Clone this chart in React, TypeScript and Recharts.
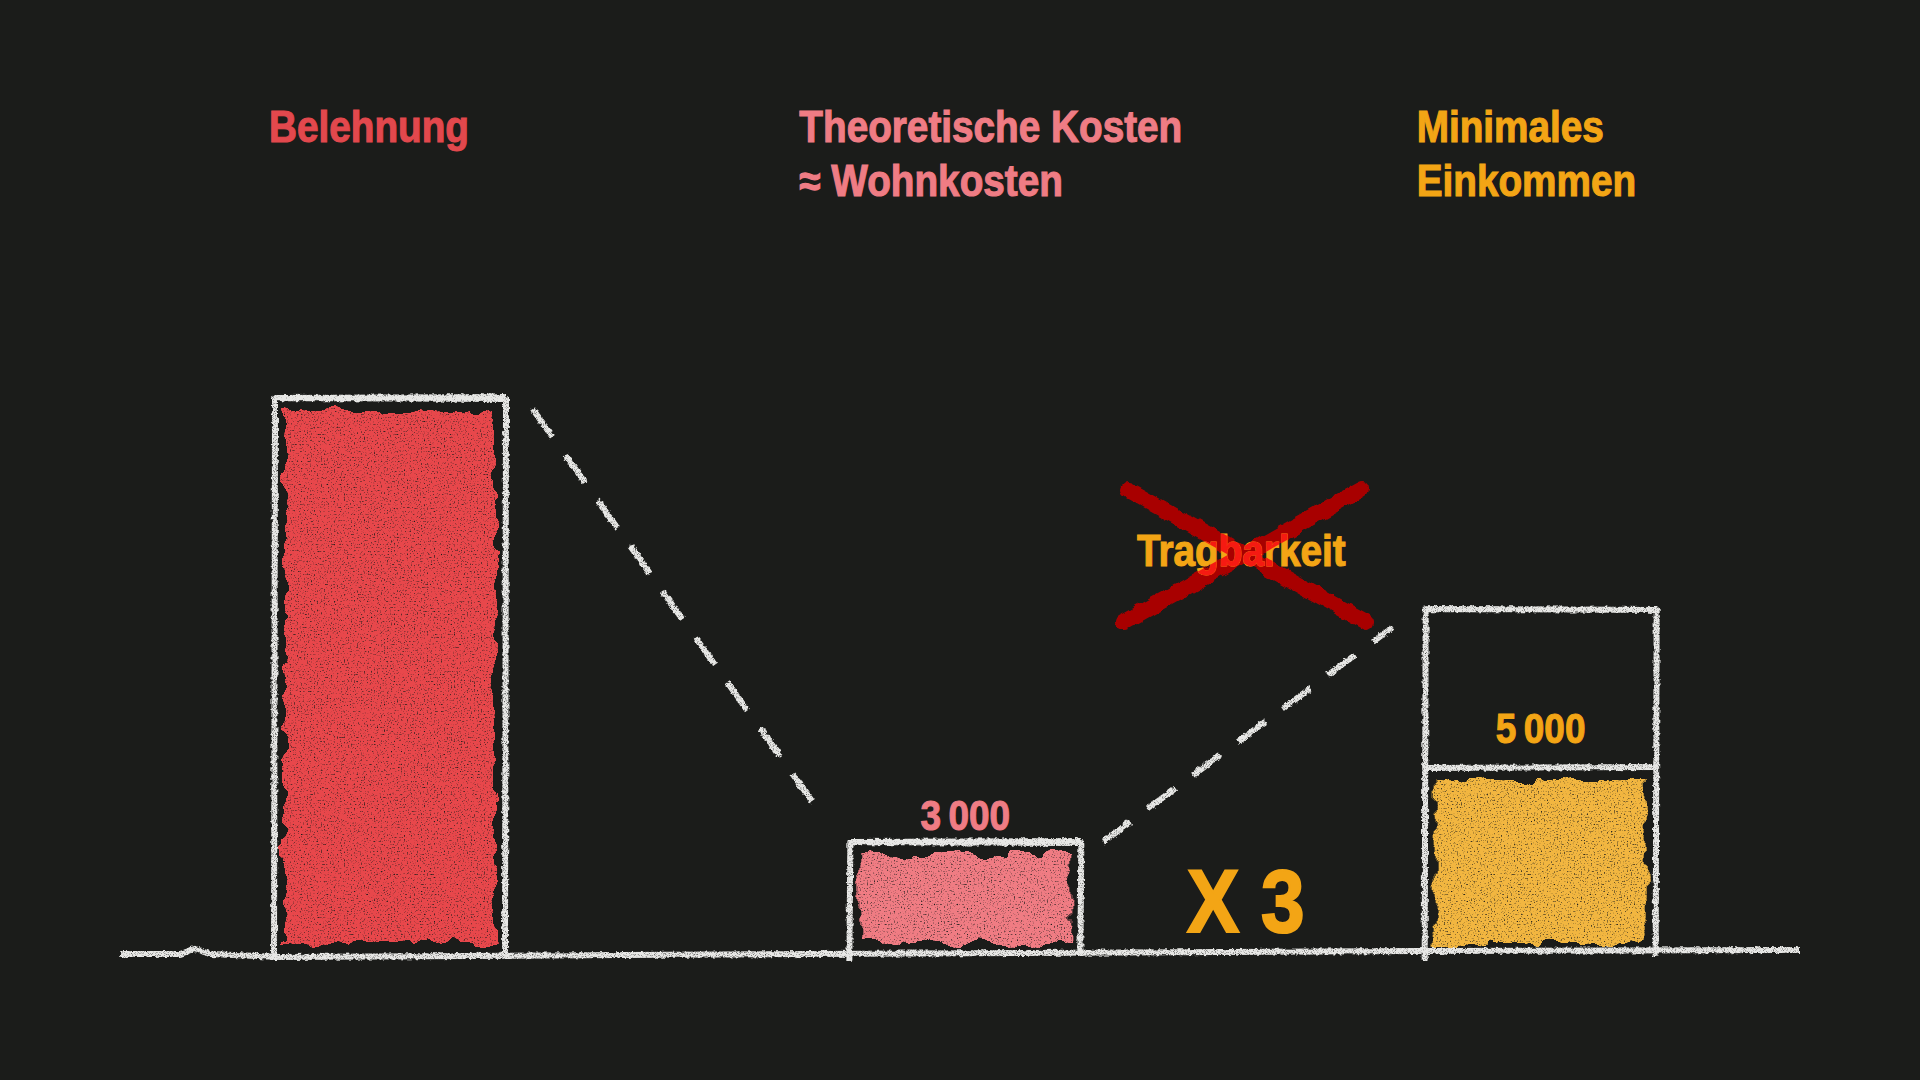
import { BarChart, Bar, XAxis, YAxis, ReferenceLine, LabelList } from 'recharts';

const CATEGORIES = ['Belehnung', 'Theoretische Kosten', 'Minimales Einkommen'];
const LABEL_LINES = [['Belehnung'], ['Theoretische Kosten', '≈ Wohnkosten'], ['Minimales', 'Einkommen']];
const VALUES = [15000, 3000, 5000];
const FRAMES = [15000, 3000, 9300];
const SHOW_VALUE = [false, true, true];
const FILL_COLORS = ['#e8474c', '#f07c83', '#f2b640'];
const TEXT_COLORS = ['#e2484d', '#ef7c84', '#f3a515'];

// dashed connectors, in data units
const LINK_DOWN = [{ x: CATEGORIES[0], y: 14700 }, { x: CATEGORIES[1], y: 3650 }];
const LINK_UP = [{ x: CATEGORIES[1], y: 3000 }, { x: CATEGORIES[2], y: 8800 }];

const BG = '#1b1c1a';
const CHALK = '#e8e8e6';
const ORANGE = '#f3a515';
const FONT = "'Liberation Sans', Arial, sans-serif";
const NARROW = 0.88;
const LABEL_DX = [-5, -50, -8];
const LINE_Y = [142, 196];
const VALUE_DY = [0, -12, -25];

const data = CATEGORIES.map((name, i) => ({ name, value: VALUES[i], frame: FRAMES[i] }));

const fmt = (v: number) => String(v).replace(/\B(?=(\d{3})+(?!\d))/g, '\u2009');

// condensed bold text (Liberation Sans squeezed horizontally, slightly fattened)
const CText = ({ x, y, size, color, anchor = 'start', children, ...rest }: any) => (
  <text transform={`translate(${x} ${y}) scale(${NARROW} 1)`} x={0} y={0} textAnchor={anchor}
    fill={color} stroke={color} strokeWidth={size / 40} fontFamily={FONT} fontWeight="bold"
    fontSize={size} {...rest}>
    {children}
  </text>
);

const CategoryLabel = (p: any) => {
  const { x, index } = p;
  return (
    <g>
      {LABEL_LINES[index].map((line, j) => (
        <CText key={j} x={x + LABEL_DX[index]} y={LINE_Y[j]} size={44} color={TEXT_COLORS[index]}>
          {line}
        </CText>
      ))}
    </g>
  );
};

const FrameShape = (p: any) => {
  const { x, y, width, height } = p;
  const b = y + height;
  return (
    <path d={`M${x} ${b + 8} L${x + 1} ${y} L${x + width} ${y + 1} L${x + width - 1} ${b + 3}`}
      fill="none" stroke={CHALK} strokeWidth={6} strokeLinejoin="round" filter="url(#chalkLine)" />
  );
};

const ValueShape = (p: any) => {
  const { x, y, width, height, index } = p;
  return (
    <g>
      <rect x={x + 11} y={y + 12} width={width - 22} height={height - 22}
        fill={FILL_COLORS[index]} filter="url(#chalkFill)" />
      <path d={`M${x} ${y} L${x + width} ${y - 1}`} stroke={CHALK} strokeWidth={6} filter="url(#chalkLine)" />
    </g>
  );
};

const ValueLabel = (p: any) => {
  const { x, y, width, value, index } = p;
  if (!SHOW_VALUE[index]) return null;
  return (
    <CText x={x + width / 2} y={y + VALUE_DY[index]} anchor="middle" size={42} color={TEXT_COLORS[index]}>
      {fmt(value)}
    </CText>
  );
};

const baseline = (p: any) => {
  const { x1, x2, y1 } = p;
  const a = x1 + 18;
  const e = x2 - 28;
  const d = `M${a} ${y1 + 1} L${a + 60} ${y1 + 1} L${a + 75} ${y1 - 4} L${a + 90} ${y1 + 1} L${a + 160} ${y1 + 4} L${a + 500} ${y1 + 2} L${a + 900} ${y1} L${a + 1300} ${y1 - 2} L${e} ${y1 - 3}`;
  return <path d={d} fill="none" stroke={CHALK} strokeWidth={6} filter="url(#chalkLine)" />;
};

const dashed = (dx1: number, dx2: number) => (p: any) => (
  <line x1={p.x1 + dx1} y1={p.y1} x2={p.x2 + dx2} y2={p.y2} stroke={CHALK} strokeWidth={6}
    strokeDasharray="34 22" filter="url(#chalkLine)" />
);

export default function App() {
  return (
    <div style={{ position: 'absolute', left: 0, top: 0, width: 1920, height: 1080, background: BG }}>
      <BarChart width={1920} height={1080} data={data} barSize={232} barGap={-232}
        margin={{ top: 361, right: 92, bottom: 127, left: 102 }}>
        <defs>
          <filter id="chalkLine" filterUnits="userSpaceOnUse" x={0} y={0} width={1920} height={1080}>
            <feTurbulence type="fractalNoise" baseFrequency="0.25" numOctaves={2} seed={2} result="t" />
            <feDisplacementMap in="SourceGraphic" in2="t" scale={4} xChannelSelector="R" yChannelSelector="G" result="d" />
            <feTurbulence type="fractalNoise" baseFrequency="1.1" numOctaves={1} seed={5} result="g" />
            <feColorMatrix in="g" type="matrix" values="0 0 0 0 0  0 0 0 0 0  0 0 0 0 0  0 0 0 -2.5 2.3" result="m" />
            <feComposite in="d" in2="m" operator="in" />
          </filter>
          <filter id="chalkFill" filterUnits="userSpaceOnUse" x={0} y={0} width={1920} height={1080}>
            <feTurbulence type="fractalNoise" baseFrequency="0.045" numOctaves={3} seed={9} result="t" />
            <feDisplacementMap in="SourceGraphic" in2="t" scale={18} xChannelSelector="R" yChannelSelector="G" result="d" />
            <feTurbulence type="fractalNoise" baseFrequency="0.7" numOctaves={1} seed={7} result="g" />
            <feColorMatrix in="g" type="matrix" values="0 0 0 0 0  0 0 0 0 0  0 0 0 0 0  0 0 0 -4 3.3" result="m" />
            <feComposite in="d" in2="m" operator="in" />
          </filter>
          <filter id="roughStroke" filterUnits="userSpaceOnUse" x={0} y={0} width={1920} height={1080}>
            <feTurbulence type="fractalNoise" baseFrequency="0.08" numOctaves={2} seed={4} result="t" />
            <feDisplacementMap in="SourceGraphic" in2="t" scale={8} xChannelSelector="R" yChannelSelector="G" />
          </filter>
          <mask id="crossMask" maskUnits="userSpaceOnUse" x={0} y={0} width={1920} height={1080}>
            <g stroke="#fff" strokeWidth={16} strokeLinecap="round">
              <line x1={1128} y1={490} x2={1366} y2={622} />
              <line x1={1362} y1={489} x2={1124} y2={622} />
            </g>
          </mask>
        </defs>
        <XAxis dataKey="name" hide />
        <YAxis hide type="number" domain={[0, 16000]} />
        <ReferenceLine y={0} shape={baseline} />
        <Bar dataKey="frame" shape={<FrameShape />} isAnimationActive={false}>
          <LabelList dataKey="name" content={<CategoryLabel />} />
        </Bar>
        <Bar dataKey="value" shape={<ValueShape />} isAnimationActive={false}>
          <LabelList dataKey="value" content={<ValueLabel />} />
        </Bar>
        <ReferenceLine segment={LINK_DOWN} shape={dashed(143, -141)} />
        <ReferenceLine segment={LINK_UP} shape={dashed(138, -148)} />
      </BarChart>
      <svg width={1920} height={1080} style={{ position: 'absolute', left: 0, top: 0, pointerEvents: 'none' }}>
        <g stroke="#a80000" strokeWidth={16} strokeLinecap="round" filter="url(#roughStroke)">
          <line x1={1128} y1={490} x2={1366} y2={622} />
          <line x1={1362} y1={489} x2={1124} y2={622} />
        </g>
        <CText x={1137} y={566} size={44} color={ORANGE}>Tragbarkeit</CText>
        <g mask="url(#crossMask)">
          <CText x={1137} y={566} size={44} color="#f51a12">Tragbarkeit</CText>
        </g>
        <CText x={1187} y={932} size={89} color={ORANGE}>X 3</CText>
      </svg>
    </div>
  );
}
